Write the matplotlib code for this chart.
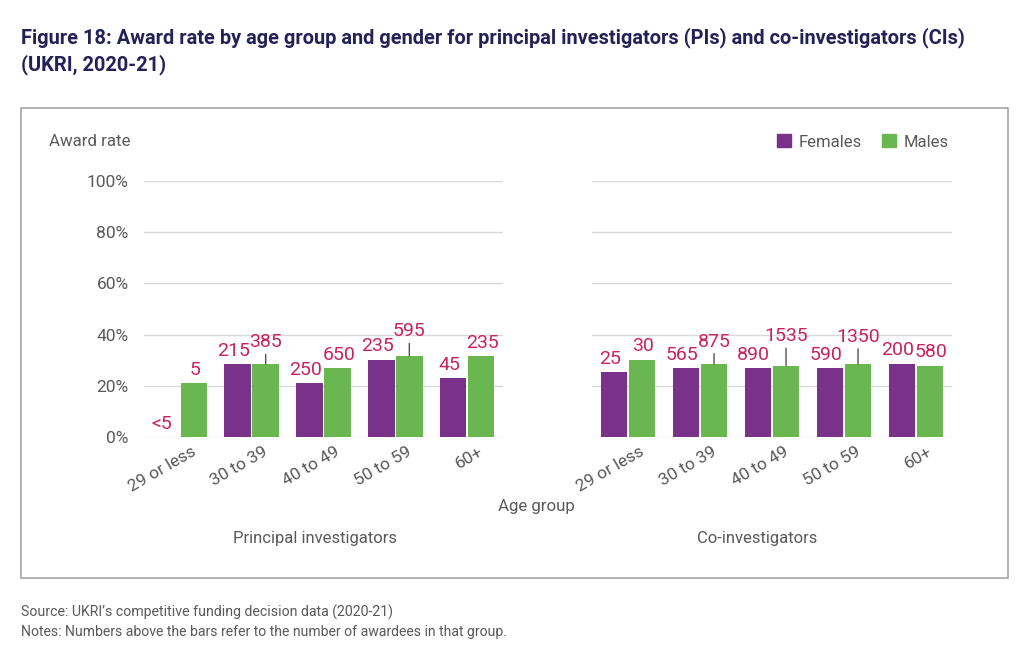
import numpy as np
import matplotlib.pyplot as plt
from matplotlib.patches import Rectangle, Patch
from matplotlib.transforms import ScaledTranslation

# Data (award rate in %, number of awardees as labels)
age_groups = ['29 or less', '30 to 39', '40 to 49', '50 to 59', '60+']
pi_female = [0, 28.5, 21.1, 30.2, 22.9]
pi_male = [21.1, 28.5, 26.9, 31.7, 31.7]
pi_female_n = ['<5', '215', '250', '235', '45']
pi_male_n = ['5', '385', '650', '595', '235']
ci_female = [25.3, 27.0, 27.0, 27.0, 28.7]
ci_male = [30.2, 28.5, 27.9, 28.5, 27.9]
ci_female_n = ['25', '565', '890', '590', '200']
ci_male_n = ['30', '875', '1535', '1350', '580']
yticks = [0, 20, 40, 60, 80, 100]

# male labels pushed up with a leader line: group index -> lift in points
pi_lifted = {1: 12, 3: 14}
ci_lifted = {1: 12.5, 2: 17.5, 3: 16}

purple = '#7a3189'
green = '#6ab650'
label_col = '#c8245c'
text_col = '#595959'
title_col = '#232157'

plt.rcParams['font.family'] = ['Roboto', 'DejaVu Sans']

fig = plt.figure(figsize=(10.27, 6.6), dpi=100)

# outer frame around the chart area
fig.patches.append(Rectangle((21 / 1027, 1 - 578 / 660), (1008 - 21) / 1027, (578 - 108) / 660,
                             transform=fig.transFigure, fill=False, edgecolor='#a6a6a6', lw=1.2))

fig.text(21 / 1027, 1 - 27 / 660,
         'Figure 18: Award rate by age group and gender for principal investigators (PIs) and co-investigators (CIs)\n(UKRI, 2020-21)',
         ha='left', va='top', fontsize=14.4, fontweight='bold', color=title_col, linespacing=1.42)

ax_pi = fig.add_axes([144 / 1027, 1 - 437 / 660, 359 / 1027, 256 / 660])
ax_ci = fig.add_axes([592 / 1027, 1 - 437 / 660, 360 / 1027, 256 / 660])

x = np.arange(len(age_groups))
w = 0.37
off = 0.195
lab_size = 14


def draw_panel(ax, fem, mal, fem_n, mal_n, lifted, show_y):
    ax.bar(x - off, fem, w, color=purple, zorder=3)
    ax.bar(x + off, mal, w, color=green, zorder=3)
    ax.set_ylim(0, 100)
    ax.set_xlim(-0.5, len(age_groups) - 0.5)
    ax.set_yticks(yticks)
    ax.grid(axis='y', color='#d9d9d9', lw=1, zorder=0)
    for s in ax.spines.values():
        s.set_visible(False)
    ax.tick_params(length=0)
    ax.tick_params(axis='y', pad=11)
    ax.tick_params(axis='x', pad=5)
    if show_y:
        ax.set_yticklabels([f'{v}%' for v in yticks], fontsize=12.5, color=text_col)
    else:
        ax.set_yticklabels([])
    ax.set_xticks(x)
    ax.set_xticklabels(age_groups, rotation=30, ha='right', va='top', rotation_mode='anchor',
                       fontsize=12.5, color=text_col)
    # move the rotated labels so they end a little right of the group centre
    shift = ScaledTranslation(8 / 72, 0, fig.dpi_scale_trans)
    for lab in ax.get_xticklabels():
        lab.set_transform(lab.get_transform() + shift)

    for i in range(len(x)):
        ax.annotate(fem_n[i], (x[i] - off, fem[i]), xytext=(-3, 6), textcoords='offset points',
                    ha='center', va='baseline', fontsize=lab_size, color=label_col, annotation_clip=False)
        lift = lifted.get(i)
        if lift:
            ax.annotate(mal_n[i], (x[i] + off, mal[i]), xytext=(0, lift), textcoords='offset points',
                        ha='center', va='baseline', fontsize=lab_size, color=label_col, annotation_clip=False)
            ax.annotate('', (x[i] + off, mal[i]), xytext=(0, lift - 5), textcoords='offset points',
                        arrowprops=dict(arrowstyle='-', color='#404040', lw=0.9, shrinkA=0, shrinkB=0),
                        annotation_clip=False)
        else:
            ax.annotate(mal_n[i], (x[i] + off, mal[i]), xytext=(1, 6), textcoords='offset points',
                        ha='center', va='baseline', fontsize=lab_size, color=label_col, annotation_clip=False)


draw_panel(ax_pi, pi_female, pi_male, pi_female_n, pi_male_n, pi_lifted, True)
draw_panel(ax_ci, ci_female, ci_male, ci_female_n, ci_male_n, ci_lifted, False)

fig.text(49 / 1027, 1 - 142 / 660, 'Award rate', ha='left', va='center', fontsize=12.2, color=text_col)
fig.text(536 / 1027, 1 - 506 / 660, 'Age group', ha='center', va='center', fontsize=12.2, color=text_col)
fig.text(315 / 1027, 1 - 538 / 660, 'Principal investigators', ha='center', va='center',
         fontsize=12, color=text_col)
fig.text(757 / 1027, 1 - 538 / 660, 'Co-investigators', ha='center', va='center',
         fontsize=12, color=text_col)

handles = [Patch(color=purple, label='Females'), Patch(color=green, label='Males')]
fig.legend(handles=handles, loc='center right', bbox_to_anchor=(964 / 1027, 1 - 142 / 660),
           ncol=2, frameon=False, fontsize=12, handlelength=0.8, handleheight=0.8,
           handletextpad=0.5, columnspacing=1.2, labelcolor=text_col)

fig.text(21 / 1027, 1 - 612 / 660, "Source: UKRI\u2019s competitive funding decision data (2020-21)",
         ha='left', va='center', fontsize=10.2, color=text_col)
fig.text(21 / 1027, 1 - 632 / 660, 'Notes: Numbers above the bars refer to the number of awardees in that group.',
         ha='left', va='center', fontsize=10.1, color=text_col)

fig.savefig('out.png', dpi=100)
